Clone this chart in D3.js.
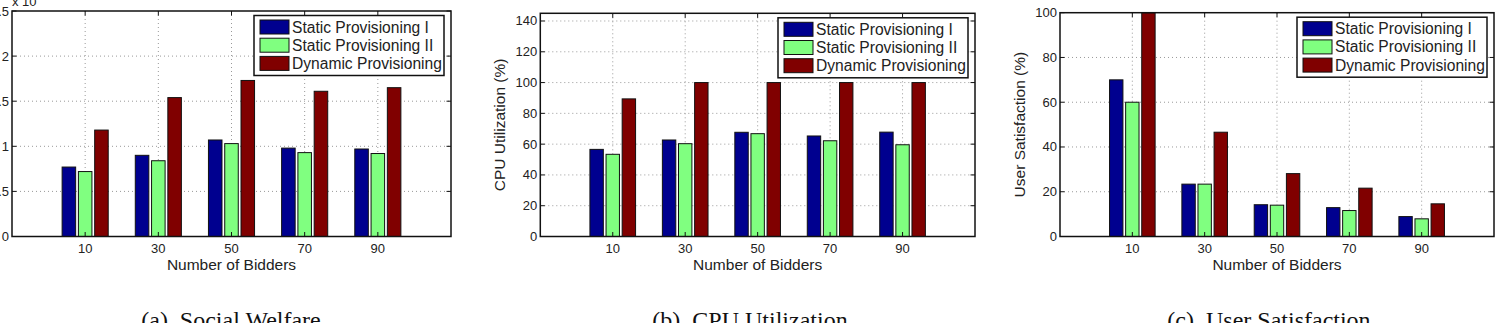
<!DOCTYPE html>
<html lang="en">
<head>
<meta charset="utf-8">
<title>Provisioning comparison</title>
<script src="https://cdn.jsdelivr.net/npm/d3@7"></script>
<style>
    body { margin: 0; background: #fff; }
    svg { display: block; }
    .tick-label { font-family: "Liberation Sans", Arial, sans-serif; font-size: 13px; fill: #222; }
    .axis-title { font-family: "Liberation Sans", Arial, sans-serif; font-size: 15.5px; fill: #222; }
    .legend-text { font-family: "Liberation Sans", Arial, sans-serif; font-size: 15.6px; fill: #222; }
    .caption { font-family: "Liberation Serif", "Times New Roman", serif; font-size: 24px; fill: #111; }
    .grid { stroke: #999; stroke-width: 1; stroke-dasharray: 1,3; }
</style>
</head>
<body>
<div id="container"></div>
<script>
    // data
    const bidders = [10, 30, 50, 70, 90];
    const seriesNames = ["Static Provisioning I", "Static Provisioning II", "Dynamic Provisioning"];
    const seriesColors = ["#00008f", "#80ff80", "#800000"];

    // (a) social welfare, in units of 10^x
    const welfareStatic1 = [0.77, 0.90, 1.07, 0.98, 0.97];
    const welfareStatic2 = [0.72, 0.84, 1.03, 0.93, 0.92];
    const welfareDynamic = [1.18, 1.54, 1.73, 1.61, 1.65];
    const welfareTicks = [0, 0.5, 1, 1.5, 2, 2.5];

    // (b) cpu utilization (%)
    const cpuStatic1 = [56.6, 62.7, 67.7, 65.3, 67.8];
    const cpuStatic2 = [53.4, 60.3, 66.8, 62.2, 59.6];
    const cpuDynamic = [89.4, 100, 100, 100, 100];
    const cpuTicks = [0, 20, 40, 60, 80, 100, 120, 140];

    // (c) user satisfaction (%)
    const satStatic1 = [70, 23.4, 14.2, 12.9, 8.9];
    const satStatic2 = [60, 23.4, 14.0, 11.6, 7.9];
    const satDynamic = [100, 46.6, 28.1, 21.6, 14.6];
    const satTicks = [0, 20, 40, 60, 80, 100];

    const W = 1500, H = 323;
    const svg = d3.select("#container").append("svg")
        .attr("width", W).attr("height", H)
        .attr("viewBox", "0 0 " + W + " " + H);

    const panels = [
        {left: 12, right: 451, top: 11, bottom: 236.5, ymax: 2.5, ticks: welfareTicks,
            series: [welfareStatic1, welfareStatic2, welfareDynamic],
            ylabel: null, exponent: true, caption: "(a)\u00a0\u00a0Social Welfare", capX: 231},
        {left: 540.3, right: 975, top: 13.3, bottom: 236.5, ymax: 145, ticks: cpuTicks,
            series: [cpuStatic1, cpuStatic2, cpuDynamic],
            ylabel: "CPU Utilization (%)", caption: "(b)\u00a0\u00a0CPU Utilization", capX: 750},
        {left: 1060, right: 1494, top: 12.7, bottom: 236.5, ymax: 100, ticks: satTicks,
            series: [satStatic1, satStatic2, satDynamic],
            ylabel: "User Satisfaction (%)", caption: "(c)\u00a0\u00a0User Satisfaction", capX: 1269}
    ];

    const barOffset = 4.45, barWidth = 3.7;

    panels.forEach(function (p) {
        const g = svg.append("g");
        const x = d3.scaleLinear().domain([-10, 110]).range([p.left, p.right]);
        const y = d3.scaleLinear().domain([0, p.ymax]).range([p.bottom, p.top]);

        // grid
        g.selectAll("line.gy").data(p.ticks.filter(t => t > 0 && t < p.ymax)).enter()
            .append("line").attr("class", "grid")
            .attr("x1", p.left).attr("x2", p.right)
            .attr("y1", d => y(d)).attr("y2", d => y(d));
        g.selectAll("line.gx").data(bidders).enter()
            .append("line").attr("class", "grid")
            .attr("x1", d => x(d)).attr("x2", d => x(d))
            .attr("y1", p.top).attr("y2", p.bottom);

        // bars
        p.series.forEach(function (vals, si) {
            g.selectAll("rect.s" + si).data(vals).enter()
                .append("rect")
                .attr("x", (d, i) => x(bidders[i] + (si - 1) * barOffset - barWidth / 2))
                .attr("width", x(barWidth) - x(0))
                .attr("y", d => y(d))
                .attr("height", d => y(0) - y(d))
                .attr("fill", seriesColors[si])
                .attr("stroke", "#111").attr("stroke-width", 1);
        });

        // ticks, inward on all sides
        const tl = 4.5;
        bidders.forEach(function (b) {
            g.append("line").attr("x1", x(b)).attr("x2", x(b)).attr("y1", p.bottom).attr("y2", p.bottom - tl).attr("stroke", "#111");
            g.append("line").attr("x1", x(b)).attr("x2", x(b)).attr("y1", p.top).attr("y2", p.top + tl).attr("stroke", "#111");
        });
        p.ticks.forEach(function (t) {
            g.append("line").attr("x1", p.left).attr("x2", p.left + tl).attr("y1", y(t)).attr("y2", y(t)).attr("stroke", "#111");
            g.append("line").attr("x1", p.right).attr("x2", p.right - tl).attr("y1", y(t)).attr("y2", y(t)).attr("stroke", "#111");
        });

        // frame
        g.append("rect").attr("x", p.left).attr("y", p.top)
            .attr("width", p.right - p.left).attr("height", p.bottom - p.top)
            .attr("fill", "none").attr("stroke", "#111").attr("stroke-width", 1.5);

        // tick labels
        g.selectAll("text.xt").data(bidders).enter().append("text")
            .attr("class", "tick-label").attr("text-anchor", "middle")
            .attr("x", d => x(d)).attr("y", p.bottom + 16)
            .text(d => d);
        g.selectAll("text.yt").data(p.ticks).enter().append("text")
            .attr("class", "tick-label").attr("text-anchor", "end")
            .attr("x", p.left - 3).attr("y", d => y(d) + 4.5)
            .text(d3.format("~g"));

        // axis titles
        g.append("text").attr("class", "axis-title").attr("text-anchor", "middle")
            .attr("x", (p.left + p.right) / 2).attr("y", p.bottom + 33)
            .text("Number of Bidders");
        if (p.ylabel) {
            g.append("text").attr("class", "axis-title").attr("text-anchor", "middle")
                .attr("transform", "translate(" + (p.left - 35) + "," + ((p.top + p.bottom) / 2) + ") rotate(-90)")
                .text(p.ylabel);
        }
        if (p.exponent) {
            g.append("text").attr("class", "tick-label")
                .attr("x", p.left).attr("y", 6).text("x 10");
        }

        // legend
        const lw = 190, lh = 60;
        const lx = p.right - 7 - lw, ly = p.top + 4.5;
        const lg = g.append("g").attr("transform", "translate(" + lx + "," + ly + ")");
        lg.append("rect").attr("width", lw).attr("height", lh)
            .attr("fill", "#fff").attr("stroke", "#111").attr("stroke-width", 1.5);
        seriesNames.forEach(function (name, i) {
            const cy = 11.5 + i * 18.2;
            lg.append("rect").attr("x", 6).attr("y", cy - 7).attr("width", 29).attr("height", 14)
                .attr("fill", seriesColors[i]).attr("stroke", "#111");
            lg.append("text").attr("class", "legend-text")
                .attr("x", 38).attr("y", cy + 5.5).text(name);
        });

        // caption
        svg.append("text").attr("class", "caption").attr("text-anchor", "middle")
            .attr("x", p.capX).attr("y", 328).text(p.caption);
    });
</script>
</body>
</html>
